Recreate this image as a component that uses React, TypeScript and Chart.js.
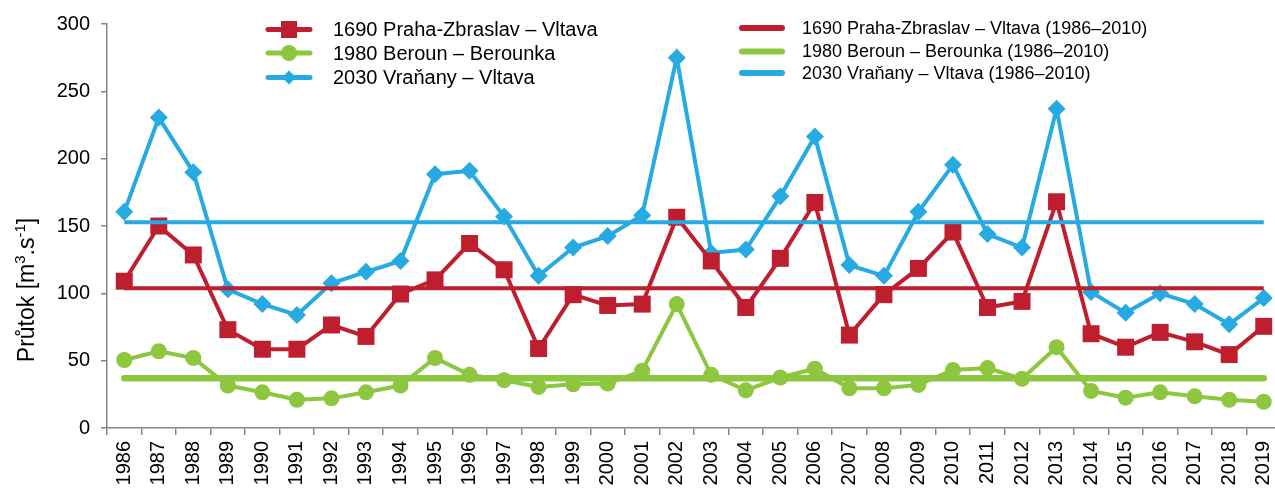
import React, { useEffect, useRef } from 'react';
import { Chart, registerables } from 'chart.js';

Chart.register(...registerables);

const years = ['1986','1987','1988','1989','1990','1991','1992','1993','1994','1995','1996','1997','1998','1999','2000','2001','2002','2003','2004','2005','2006','2007','2008','2009','2010','2011','2012','2013','2014','2015','2016','2017','2018','2019'];

const praha = [109, 150, 128.5, 73, 58.5, 58.5, 76.5, 68, 99.5, 110, 137, 117.5, 59, 99, 91, 92, 156.5, 124, 89.5, 126, 167.5, 69, 99, 118.5, 145.5, 89.5, 94, 168, 70, 60, 71, 64, 54.5, 75.5];
const beroun = [50.5, 57, 52, 31.5, 26.5, 21, 22, 26.5, 31.5, 52, 39.5, 35.5, 30.5, 32.5, 33, 42.5, 92, 39.5, 28, 37.5, 44, 29.5, 29.5, 32, 43, 44.5, 36.5, 60, 27.5, 22.5, 26.5, 23.5, 21, 19.5];
const vranany = [160.5, 230.5, 190, 103, 92, 84, 107.5, 116, 124, 188.5, 191, 157, 113, 134, 142.5, 158, 275, 130, 132.5, 172, 216.5, 121, 113, 160.5, 195.5, 144, 134, 237, 101, 85.5, 100, 92, 77, 96.5];

const avgPraha = 103.8;
const avgBeroun = 36.9;
const avgVranany = 152.8;

const seriesLabels = ['1690 Praha-Zbraslav – Vltava', '1980 Beroun – Berounka', '2030 Vraňany – Vltava'];
const avgLabels = ['1690 Praha-Zbraslav – Vltava (1986–2010)', '1980 Beroun – Berounka (1986–2010)', '2030 Vraňany – Vltava (1986–2010)'];

const RED = '#BE1E2D';
const GREEN = '#8DC63F';
const BLUE = '#27AAE1';
const AXIS = '#868686';
const FONT = "'Liberation Sans', Arial, sans-serif";

const legendPlugin = {
  id: 'customLegend',
  afterDraw(chart: any) {
    const ctx = chart.ctx;
    ctx.save();
    ctx.textBaseline = 'middle';
    ctx.textAlign = 'left';
    const colors = [RED, GREEN, BLUE];

    // left group: series with markers
    ctx.font = `20px ${FONT}`;
    const leftRows = [29.5, 53, 77.5];
    for (let i = 0; i < 3; i++) {
      const y = leftRows[i];
      ctx.strokeStyle = colors[i];
      ctx.lineWidth = 5;
      ctx.lineCap = 'round';
      ctx.beginPath();
      ctx.moveTo(268, y);
      ctx.lineTo(310, y);
      ctx.stroke();
      ctx.fillStyle = colors[i];
      const cx = 289;
      if (i === 0) {
        ctx.fillRect(cx - 8, y - 8.5, 16, 17);
      } else if (i === 1) {
        ctx.beginPath();
        ctx.arc(cx, y, 8, 0, Math.PI * 2);
        ctx.fill();
      } else {
        ctx.beginPath();
        ctx.moveTo(cx, y - 7);
        ctx.lineTo(cx + 7, y);
        ctx.lineTo(cx, y + 7);
        ctx.lineTo(cx - 7, y);
        ctx.closePath();
        ctx.fill();
      }
      ctx.fillStyle = '#000';
      ctx.fillText(seriesLabels[i], 333, y + 1);
    }

    // right group: averages
    ctx.font = `18px ${FONT}`;
    const rightRows = [28, 51.5, 73];
    for (let i = 0; i < 3; i++) {
      const y = rightRows[i];
      ctx.strokeStyle = colors[i];
      ctx.lineWidth = 6;
      ctx.lineCap = 'round';
      ctx.beginPath();
      ctx.moveTo(742, y);
      ctx.lineTo(782, y);
      ctx.stroke();
      ctx.fillStyle = '#000';
      ctx.fillText(avgLabels[i], 802, y + 1);
    }

    // y-axis title with superscripts
    const parts: [string, boolean][] = [['Průtok [m', false], ['3', true], ['.s', false], ['-1', true], [']', false]];
    const mainFont = `23px ${FONT}`;
    const supFont = `15px ${FONT}`;
    let total = 0;
    for (const [t, sup] of parts) {
      ctx.font = sup ? supFont : mainFont;
      total += ctx.measureText(t).width;
    }
    ctx.translate(26, 290);
    ctx.rotate(-Math.PI / 2);
    let x = -total / 2;
    ctx.fillStyle = '#000';
    ctx.textBaseline = 'alphabetic';
    for (const [t, sup] of parts) {
      ctx.font = sup ? supFont : mainFont;
      ctx.fillText(t, x, sup ? -1 : 8);
      x += ctx.measureText(t).width;
    }
    ctx.restore();
  },
};

export default function App() {
  const ref = useRef<HTMLCanvasElement | null>(null);

  useEffect(() => {
    document.body.style.margin = '0';
    if (!ref.current) return;
    Chart.defaults.font.family = FONT;
    const chart = new Chart(ref.current, {
      type: 'line',
      data: {
        labels: years,
        datasets: [
          {
            label: avgLabels[0],
            data: [{ x: '1986', y: avgPraha }, { x: '2019', y: avgPraha }] as any,
            borderColor: RED,
            borderWidth: 4,
            pointRadius: 0,
            order: 0,
          },
          {
            label: avgLabels[1],
            data: [{ x: '1986', y: avgBeroun }, { x: '2019', y: avgBeroun }] as any,
            borderColor: GREEN,
            borderWidth: 6.5,
            pointRadius: 0,
            borderCapStyle: 'round',
            order: 0,
          },
          {
            label: avgLabels[2],
            data: [{ x: '1986', y: avgVranany }, { x: '2019', y: avgVranany }] as any,
            borderColor: BLUE,
            borderWidth: 4,
            pointRadius: 0,
            order: 0,
          },
          {
            label: seriesLabels[0],
            data: praha,
            borderColor: RED,
            backgroundColor: RED,
            borderWidth: 4,
            pointStyle: 'rect',
            pointRadius: 12,
            pointBorderWidth: 0,
            order: 1,
          },
          {
            label: seriesLabels[1],
            data: beroun,
            borderColor: GREEN,
            backgroundColor: GREEN,
            borderWidth: 4,
            pointStyle: 'circle',
            pointRadius: 8,
            pointBorderWidth: 0,
            order: 2,
          },
          {
            label: seriesLabels[2],
            data: vranany,
            borderColor: BLUE,
            backgroundColor: BLUE,
            borderWidth: 4,
            pointStyle: 'rectRot',
            pointRadius: 9,
            pointBorderWidth: 0,
            order: 3,
          },
        ],
      },
      options: {
        animation: false,
        responsive: false,
        maintainAspectRatio: false,
        layout: { padding: { top: 24, right: 19, bottom: 0, left: 0 } },
        plugins: {
          legend: { display: false },
          tooltip: { enabled: false },
        },
        scales: {
          x: {
            type: 'category',
            offset: true,
            afterFit: (s: any) => { s.height = 63; },
            grid: {
              display: true,
              drawOnChartArea: false,
              drawTicks: true,
              tickLength: 7,
              color: AXIS,
              lineWidth: 1.5,
              offset: true,
            },
            border: { display: true, color: AXIS, width: 1.5 },
            ticks: {
              color: '#000',
              font: { size: 20, family: FONT },
              maxRotation: 90,
              minRotation: 90,
              autoSkip: false,
              padding: 6,
            },
          },
          y: {
            min: 0,
            max: 300,
            afterFit: (s: any) => { s.width = 107; },
            grid: {
              display: true,
              drawOnChartArea: false,
              drawTicks: true,
              tickLength: 6,
              color: AXIS,
              lineWidth: 1.5,
            },
            border: { display: true, color: AXIS, width: 1.5 },
            ticks: {
              stepSize: 50,
              color: '#000',
              font: { size: 20, family: FONT },
              padding: 11,
            },
          },
        },
      },
      plugins: [legendPlugin],
    });
    return () => chart.destroy();
  }, []);

  return (
    <div style={{ position: 'absolute', left: 0, top: 0, width: 1275, height: 491, overflow: 'hidden', background: '#fff' }}>
      <canvas ref={ref} width={1300} height={491} style={{ display: 'block', width: 1300, height: 491 }} />
    </div>
  );
}
